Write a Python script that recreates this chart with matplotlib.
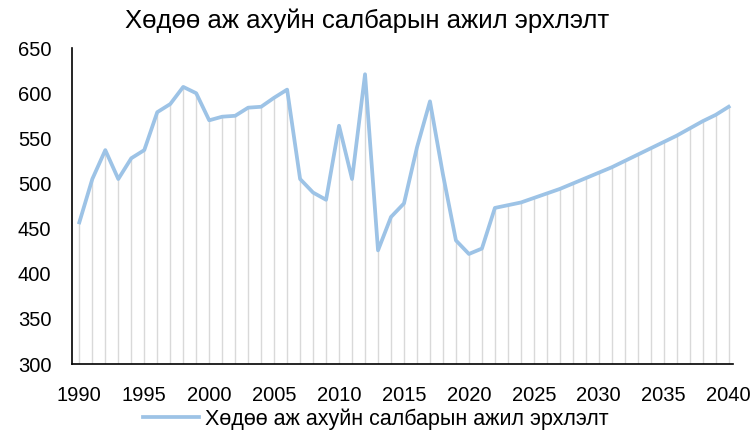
import matplotlib
matplotlib.use("Agg")
import matplotlib.pyplot as plt

plt.rcParams['font.family'] = ['Liberation Sans', 'DejaVu Sans']

years = list(range(1990, 2041))
employment = [457, 505, 537, 505, 528, 537, 579, 588, 607, 600,
              570, 574, 575, 584, 585, 595, 604, 505, 490, 482,
              564, 505, 621, 426, 463, 478, 540, 591, 510, 437,
              422, 428, 473, 476, 479, 484, 489, 494, 500, 506,
              512, 518, 525, 532, 539, 546, 553, 561, 569, 576,
              585]
title = "Хөдөө аж ахуйн салбарын ажил эрхлэлт"

fig = plt.figure(figsize=(7.52, 4.33), dpi=100)
ax = fig.add_axes([0.096, 0.159, 0.879, 0.730])

# drop lines from each point to the axis
ax.vlines(years, 300, employment, color='#d9d9d9', linewidth=1.0, zorder=1)
ax.plot(years, employment, color='#9dc3e6', linewidth=2.7, label=title, zorder=2,
        solid_joinstyle='round')

ax.set_xlim(1989.45, 2040.35)
ax.set_ylim(300, 650)
ax.set_xticks(range(1990, 2041, 5))
ax.set_yticks(range(300, 651, 50))
ax.tick_params(length=0, labelsize=14.5)
ax.tick_params(axis='x', pad=16)
ax.tick_params(axis='y', pad=15)
for s in ['top', 'right']:
    ax.spines[s].set_visible(False)
ax.spines['left'].set_linewidth(1.2)
ax.spines['bottom'].set_linewidth(1.2)

fig.text(0.488, 0.952, title, ha='center', va='center', fontsize=18.5)
fig.legend(loc='center', bbox_to_anchor=(0.5, 0.032), frameon=False, fontsize=15.5,
           handlelength=2.6, handletextpad=0.3)

fig.savefig("out.png", dpi=100)
